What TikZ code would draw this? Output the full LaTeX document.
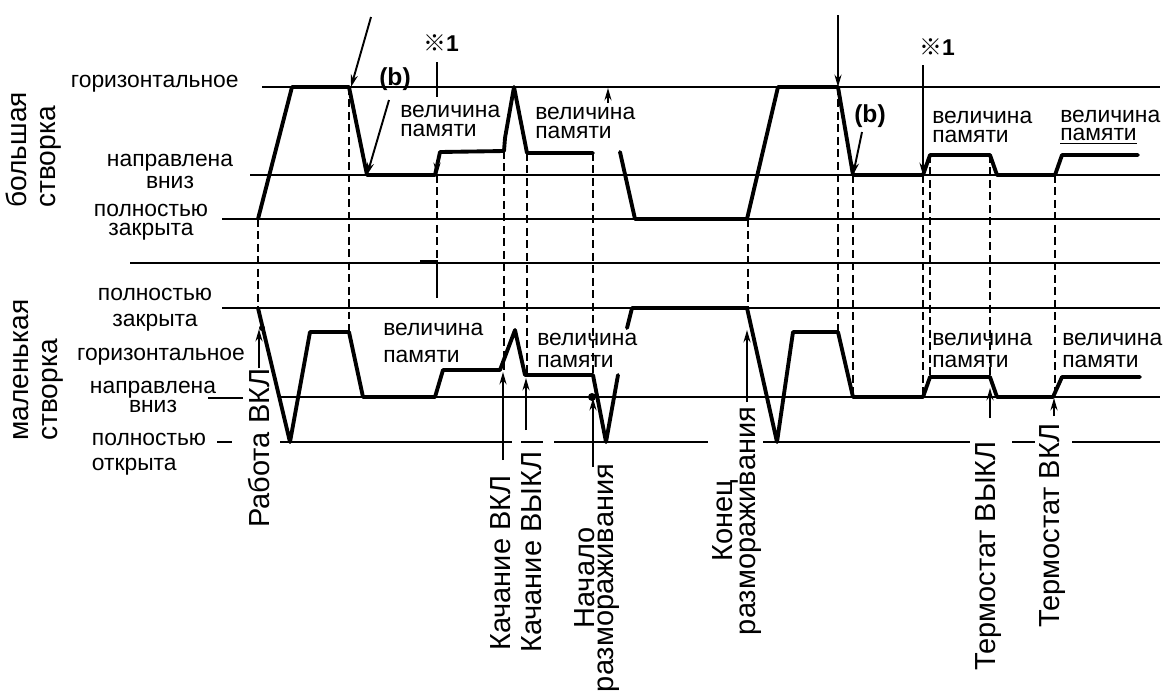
\documentclass[tikz,border=0pt]{standalone}
\usepackage{fontspec}
\setmainfont{Liberation Sans}
\newfontfamily\refmarkfont{Noto Sans CJK JP}
\usetikzlibrary{arrows.meta}

\begin{document}
\begin{tikzpicture}[
  x=0.02cm, y=-0.02cm,
  refline/.style={line width=0.9pt},
  guide/.style={line width=0.9pt, dash pattern=on 4.5pt off 2.6pt},
  wave/.style={line width=2.2pt, line join=round, line cap=round},
  ptr/.style={-{Stealth[length=7pt,width=4pt]}, line width=1.1pt},
  lvl/.style={font=\fontsize{13}{12.5}\selectfont, align=center, inner sep=0pt},
  mem/.style={font=\fontsize{13}{10.5}\selectfont, align=left, anchor=west, inner sep=0pt},
  side/.style={rotate=90, anchor=west, align=left, inner sep=0pt,
    font=\fontsize{16}{16.5}\selectfont},
  evt/.style={rotate=90, anchor=west, inner sep=0pt, font=\fontsize{16.5}{17}\selectfont},
  bnote/.style={font=\bfseries\fontsize{14}{14}\selectfont, inner sep=0pt},
  rnote/.style={font=\bfseries\fontsize{13}{13}\selectfont, inner sep=0pt}
]
\useasboundingbox (0,0) rectangle (1163,691);

% --- big flap (upper panel) ---
\node[side] (big) at (34,208) {большая\\створка};
\node[lvl, anchor=east] (hz1) at (239,84) {горизонтальное};
\node[lvl] (dn1) at (170,171) {направлена\\вниз};
\node[lvl, font=\fontsize{13}{10.5}\selectfont] (cl1) at (151,222) {полностью\\закрыта};

\draw[refline] (262,87) -- (1160,87);
\draw[refline] (250,175) -- (1160,175);
\draw[refline] (222,219) -- (1160,219);

% --- small flap (lower panel) ---
\node[side] (small) at (38,441) {маленькая\\створка};
\node[lvl, font=\fontsize{13}{14.7}\selectfont] (cl2) at (155,310) {полностью\\закрыта};
\node[lvl] (hz2) at (161,357) {горизонтальное};
\node[lvl, font=\fontsize{13}{11.3}\selectfont] (dn2) at (153,397) {направлена\\вниз};
\node[lvl, align=left, font=\fontsize{13}{14.2}\selectfont] (op2) at (149,454) {полностью\\открыта};

\draw[refline] (130,263) -- (1160,263);
\draw[refline] (222,308) -- (1160,308);
\draw[refline] (280,397) -- (1160,397);
\draw[refline] (208,398) -- (243,398);
\draw[refline] (217,442) -- (232,442);
\draw[refline] (280,442) -- (512,442);
\draw[refline] (521,442) -- (543,442);
\draw[refline] (554,442) -- (708,442);
\draw[refline] (763,442) -- (970,442);
\draw[refline] (1012,442) -- (1035,442);
\draw[refline] (1072,442) -- (1160,442);

% dashed time marks
\draw[guide] (258,219) -- (258,308);
\draw[guide] (349,87) -- (349,332);
\draw[guide] (437,175) -- (437,263);
\draw[guide] (504,151) -- (504,370);
\draw[guide] (527,153) -- (527,375);
\draw[guide] (593,153) -- (593,375);
\draw[guide] (748,219) -- (748,308);
\draw[guide] (838,87) -- (838,332);
\draw[guide] (853,175) -- (853,397);
\draw[guide] (923,175) -- (923,397);
\draw[guide] (930,155) -- (930,377);
\draw[guide] (990,155) -- (990,377);
\draw[guide] (1055,175) -- (1055,397);

% --- flap positions ---
\draw[wave] (258,219) -- (292,87) -- (349,87) -- (367,175) -- (435,175) -- (440,152)
  -- (504,151) -- (505,138) -- (514,87) -- (527,153) -- (593,153);
\draw[wave] (620,152) -- (635,219) -- (747,219) -- (778,87) -- (838,87) -- (853,175)
  -- (923,175) -- (930,155) -- (990,155) -- (997,175) -- (1055,175) -- (1062,155) -- (1138,155);
\draw[wave] (258,308) -- (290,442) -- (310,332) -- (349,332) -- (363,397) -- (435,397)
  -- (443,370) -- (500,370) -- (515,330) -- (525,375) -- (593,375) -- (606,442) -- (618,375);
\draw[wave] (627,328) -- (632,308) -- (747,308) -- (777,442) -- (793,332) -- (838,332)
  -- (853,397) -- (923,397) -- (930,377) -- (990,377) -- (997,397) -- (1053,397) -- (1062,377) -- (1140,377);

% memory values
\node[mem] (m1) at (400,121) {величина\\памяти};
\node[mem] (m2) at (535,123) {величина\\памяти};
\node[mem] (m3) at (932,127) {величина\\памяти};
\node[mem] (m4) at (1060,127) {величина\\\underline{памяти}};
\node[mem, font=\fontsize{13}{15.3}\selectfont] (m5) at (383,343) {величина\\памяти};
\node[mem, font=\fontsize{13}{12.5}\selectfont] (m6) at (537,350) {величина\\памяти};
\node[mem, font=\fontsize{13}{12.5}\selectfont] (m7) at (932,350) {величина\\памяти};
\node[mem, font=\fontsize{13}{12.5}\selectfont] (m8) at (1062,350) {величина\\памяти};

% --- notes above ---
\node[bnote] (b1) at (395,79) {(b)};
\node[bnote] (b2) at (870,116) {(b)};
\node[rnote] (r1) at (441,43) {{\refmarkfont ※}1};
\node[rnote] (r2) at (937,47) {{\refmarkfont ※}1};

\coordinate (p1top) at (371,17);
\coordinate (p1end) at (351,87);
\coordinate (b1end) at (367,175);
\coordinate (b2end) at (853,175);
\coordinate (p2top) at (838,15);
\coordinate (p2end) at (838,87);
\coordinate (r2end) at (923,175);

\draw[ptr] (p1top) -- (p1end);
\draw[ptr] (389,100) -- (b1end);
\draw[refline] (437,62) -- (437,97);
\draw[ptr] (437,160) -- (437,175);
\draw[ptr] (608,103) -- (608,88);
\draw[ptr] (p2top) -- (p2end);
\draw[ptr] (862,132) -- (b2end);
\draw[ptr] (923,65) -- (r2end);
\draw[refline] (420,261) -- (437,261) -- (437,298);

% --- events below ---
\node[evt] (e1) at (259,528) {Работа ВКЛ};
\node[evt] (e2) at (501,651) {Качание ВКЛ};
\node[evt] (e3) at (532,653) {Качание ВЫКЛ};
\node[evt, anchor=center, align=center, font=\fontsize{16.5}{10.5}\selectfont] (e4) at (597,578) {Начало\\размораживания};
\node[evt, anchor=center, align=center, font=\fontsize{16.5}{13}\selectfont] (e5) at (737,521) {Конец\\размораживания};
\node[evt] (e6) at (989,671) {Термостат ВЫКЛ};
\node[evt] (e7) at (1053,628) {Термостат ВКЛ};

\draw[ptr] (e1.east) -- (259,329);
\fill (262,328) circle (3);
\draw[ptr] (503,460) -- (503,372);
\draw[ptr] (526,430) -- (526,378);
\draw[ptr] (593,467) -- (593,398);
\fill (592,397) circle (4);
\draw[ptr] (747,402) -- (747,330);
\draw[ptr] (990,418) -- (990,388);
\draw[ptr] (1054,416) -- (1054,398);

\end{tikzpicture}
\end{document}
